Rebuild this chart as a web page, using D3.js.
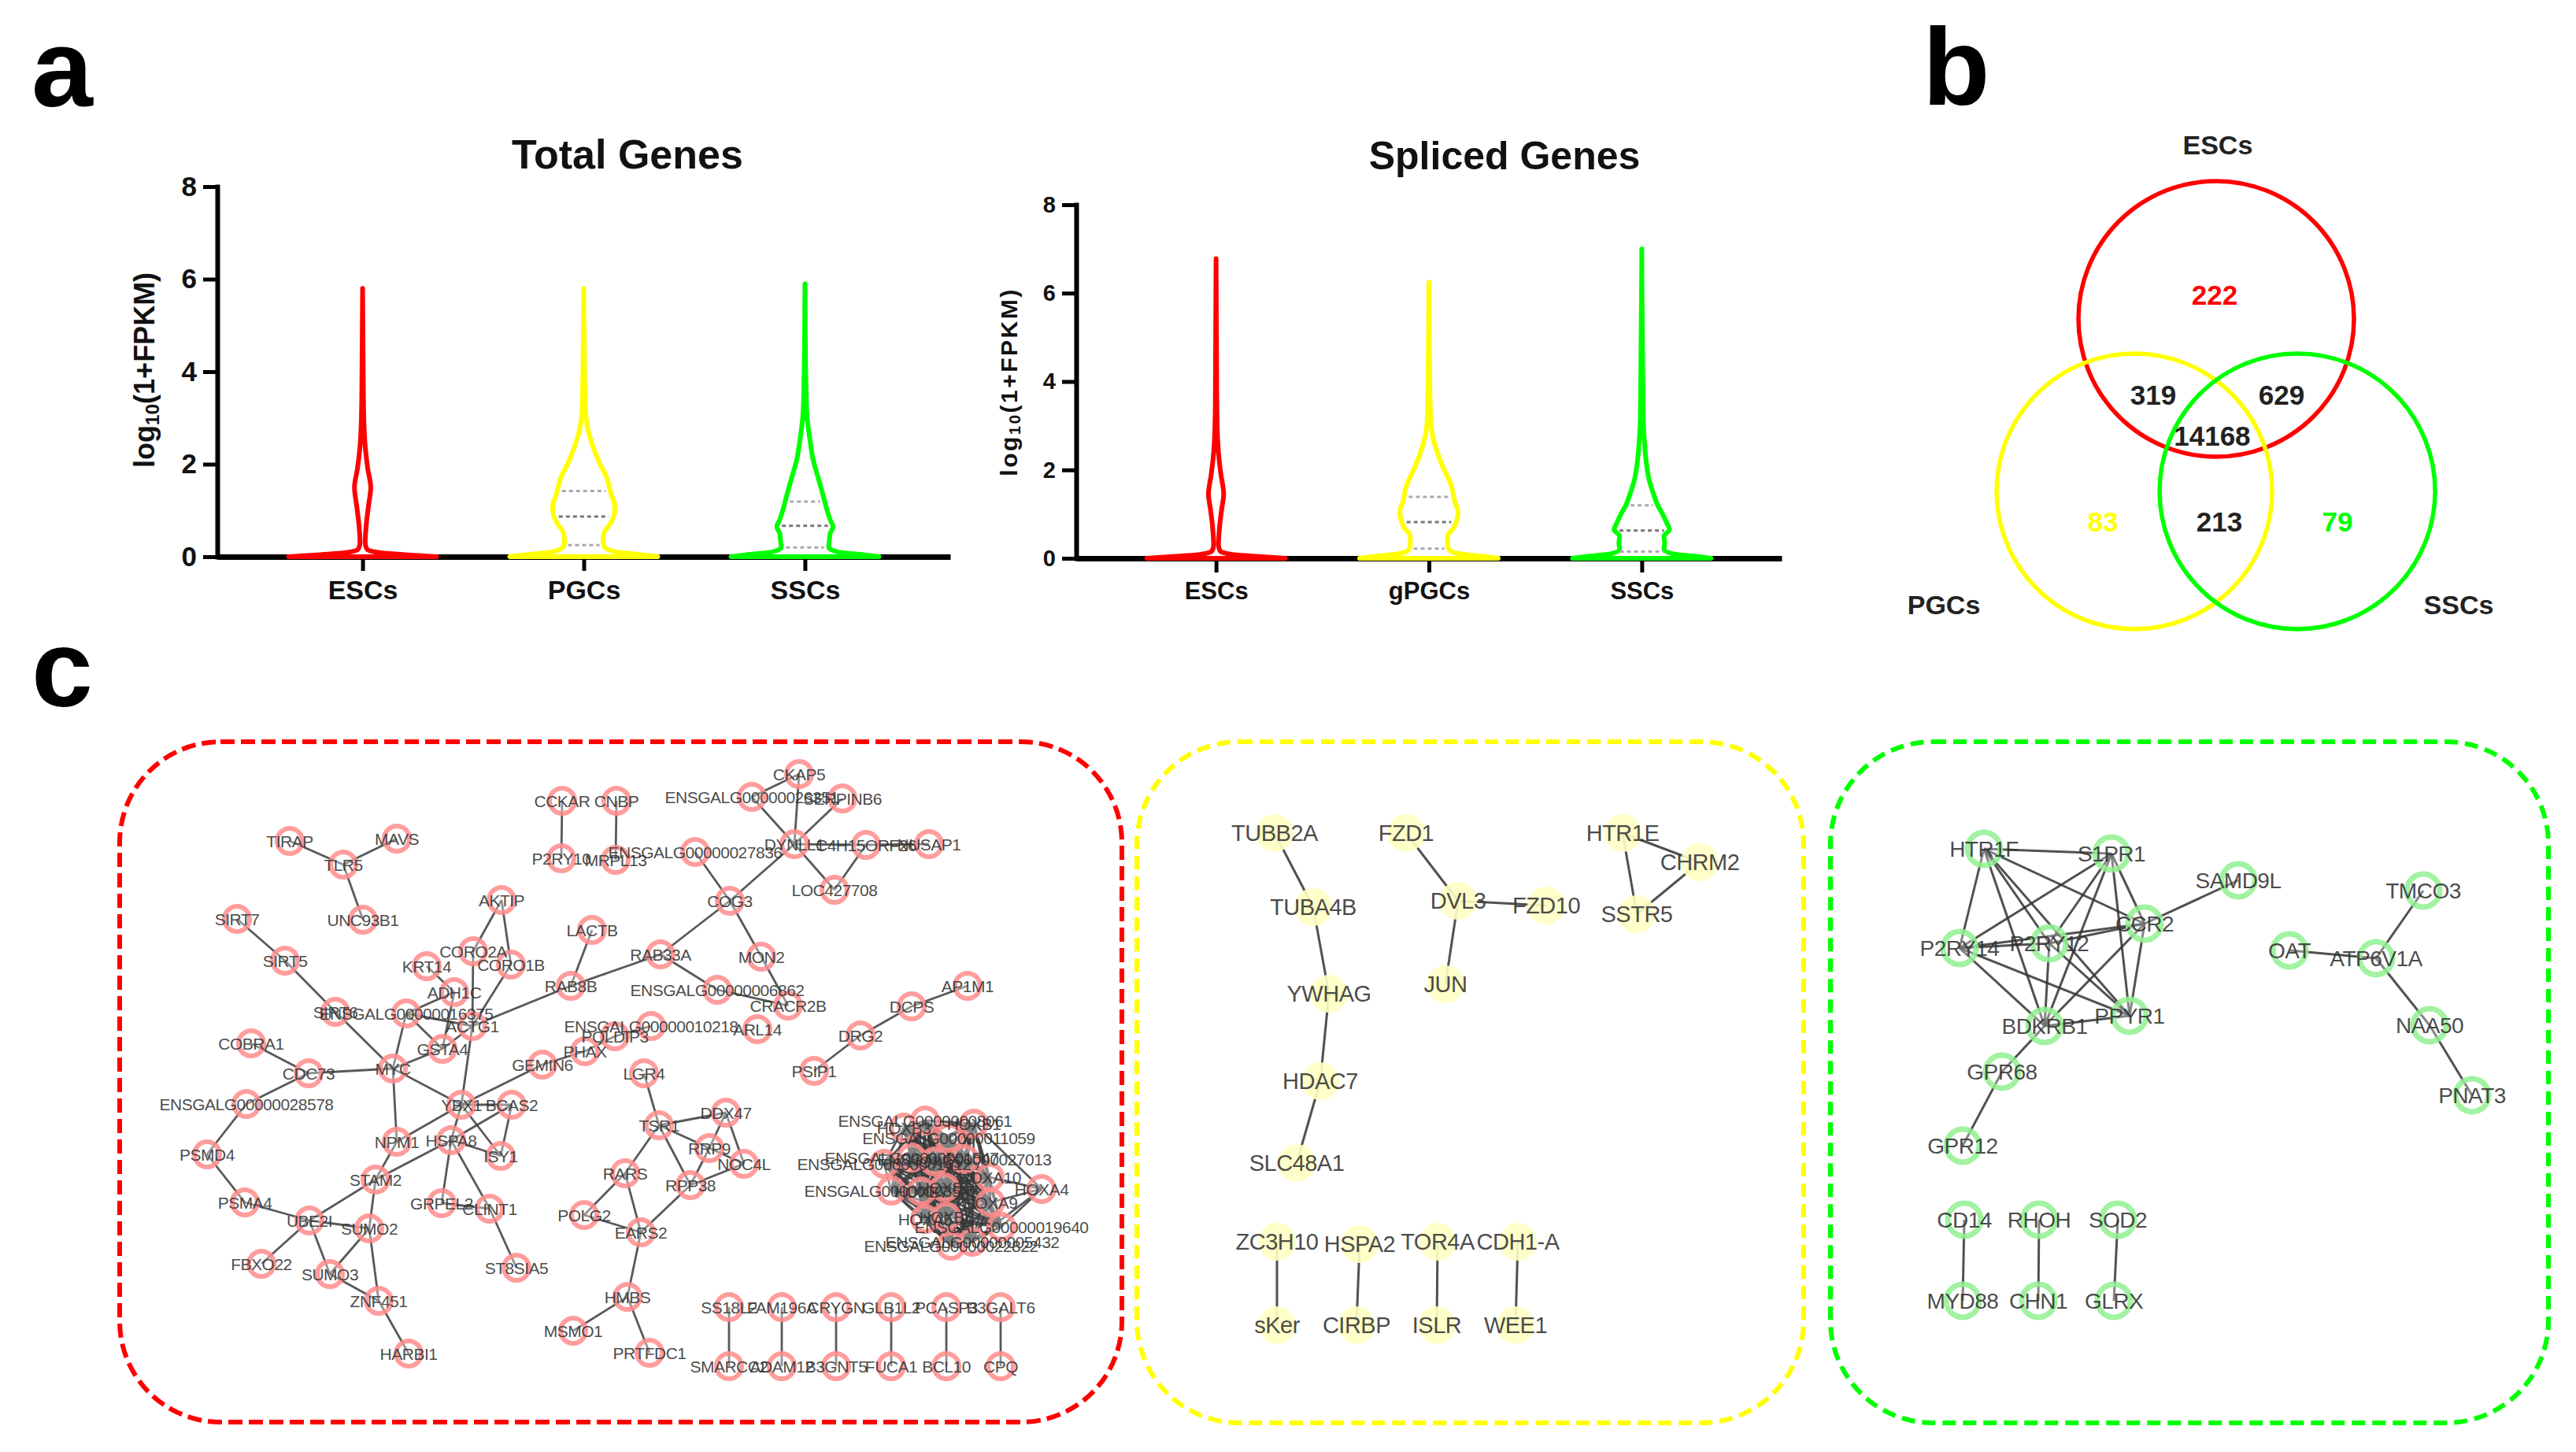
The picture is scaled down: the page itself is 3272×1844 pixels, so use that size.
<!DOCTYPE html>
<html><head><meta charset="utf-8">
<script src="https://cdn.jsdelivr.net/npm/d3@7"></script>
<style>
body{margin:0;background:#fff}
svg{display:block}
.narrow{font-family:"Liberation Sans Narrow","Arial Narrow","Liberation Sans",Arial,sans-serif;font-weight:bold}
.sans{font-family:"Liberation Sans",Arial,sans-serif}
</style></head>
<body>
<svg id="fig" width="3272" height="1844"></svg>
<script>
// ---------------- DATA ----------------
const cellTypesTotal = ["ESCs", "PGCs", "SSCs"];
const cellTypesSpliced = ["ESCs", "gPGCs", "SSCs"];
const yTicks = [0, 2, 4, 6, 8];
const violinColors = ["#ff0000", "#ffff00", "#00ff00"];

// violin profiles: [log10(1+FPKM), relative half-width]
const totalESCs = [[0,1.0],[0.04,0.62],[0.09,0.22],[0.16,0.06],[0.3,0.035],[0.7,0.05],[1.1,0.08],[1.5,0.11],[1.9,0.07],[2.3,0.04],[2.8,0.02],[3.6,0.01],[5.8,0]];
const totalPGCs = [[0,1.0],[0.04,0.8],[0.1,0.45],[0.18,0.3],[0.3,0.26],[0.5,0.27],[0.7,0.35],[0.9,0.41],[1.1,0.42],[1.35,0.37],[1.6,0.33],[1.75,0.3],[2.0,0.22],[2.4,0.12],[2.8,0.05],[3.3,0.02],[5.8,0]];
const totalSSCs = [[0,1.0],[0.04,0.8],[0.1,0.45],[0.2,0.32],[0.35,0.33],[0.5,0.34],[0.65,0.38],[0.8,0.34],[1.0,0.3],[1.3,0.25],[1.7,0.18],[2.1,0.11],[2.5,0.07],[3.0,0.03],[3.6,0.015],[5.9,0]];
const splicedESCs = [[0,1.0],[0.04,0.62],[0.09,0.22],[0.16,0.06],[0.3,0.035],[0.7,0.05],[1.1,0.08],[1.45,0.11],[1.9,0.07],[2.3,0.04],[2.8,0.02],[3.6,0.01],[6.78,0]];
const splicedPGCs = [[0,1.0],[0.04,0.8],[0.1,0.45],[0.18,0.3],[0.3,0.27],[0.5,0.27],[0.7,0.36],[0.9,0.41],[1.05,0.42],[1.3,0.37],[1.55,0.34],[1.7,0.31],[2.0,0.22],[2.4,0.12],[2.8,0.05],[3.3,0.02],[6.25,0]];
const splicedSSCs = [[0,1.0],[0.04,0.8],[0.1,0.45],[0.2,0.32],[0.35,0.33],[0.5,0.32],[0.65,0.4],[0.8,0.36],[1.0,0.3],[1.2,0.23],[1.5,0.16],[1.75,0.11],[2.1,0.07],[2.6,0.04],[3.2,0.02],[7.0,0]];
const quartilesTotal = [[], [0.25, 0.87, 1.42], [0.2, 0.67, 1.19]];
const quartilesSpliced = [[], [0.22, 0.82, 1.39], [0.15, 0.63, 1.2]];

// Venn
const vennSets = ["ESCs", "PGCs", "SSCs"];
const vennSetColors = ["#ff0000", "#ffff00", "#00ff00"];
const vennCenters = [[0, 0], [-0.594, 1.251], [0.589, 1.251]];      // in radius units
const vennSetLabelPos = [[0.011, -1.263], [-1.977, 2.074], [1.76, 2.074]];
const vennCounts = [222, 83, 79, 319, 629, 213, 14168];
const vennCountColors = ["#ff0000", "#ffff00", "#00ff00", "#222", "#222", "#222", "#222"];
const vennCountPos = [[-0.011,-0.177],[-0.823,1.469],[0.88,1.469],[-0.457,0.554],[0.474,0.554],[0.023,1.469],[-0.029,0.846]];

// Networks: nodes [name, layoutX, layoutY] (layout units inside each box)
const redNodes = [
 ["CCKAR",562,75],["CNBP",631,75],["P2RY10",561,148],["MRPL13",630,150],
 ["TIRAP",216,126],["MAVS",352,123],["TLR5",284,156],["UNC93B1",309,226],
 ["AKTIP",485,201],["SIRT7",149,225],["SIRT5",210,278],["LACTB",600,239],
 ["CORO2A",449,266],["KRT14",390,285],["CORO1B",497,283],["ADH1C",425,318],
 ["RAB8B",573,310],["SIRT6",274,343],["ENSGALG00000016375",364,345],["ACTG1",448,361],
 ["GSTA4",410,390],["COBRA1",167,383],["CDC73",240,421],["MYC",347,415],
 ["GEMIN6",537,410],["PHAX",591,393],["POLDIP3",629,374],["ENSGALG00000010218",675,361],
 ["LGR4",666,421],["ENSGALG00000028578",161,460],["YBX1",434,461],["BCAS2",498,461],
 ["CKAP5",863,41],["ENSGALG00000026351",803,70],["SERPINB6",918,72],["DYNLL1",857,130],
 ["C4H15ORF26",948,131],["NUSAP1",1028,130],["ENSGALG00000027836",731,140],["LOC427708",908,188],
 ["COG3",775,202],["RAB33A",687,270],["MON2",815,273],["ENSGALG00000006862",759,315],
 ["CRACR2B",849,335],["ARL14",810,365],["AP1M1",1077,310],["DCPS",1006,336],
 ["DRG2",941,373],["PSIP1",882,418],["DDX47",770,471],["NPM1",352,508],
 ["HSPA8",421,506],["ISY1",484,526],["PSMD4",111,524],["STAM2",325,556],
 ["PSMA4",159,585],["GRPEL2",409,586],["CLINT1",470,593],["UBE2I",241,608],
 ["SUMO2",317,618],["FBXO22",180,663],["SUMO3",267,676],["ST8SIA5",504,668],
 ["ZNF451",329,710],["HARBI1",367,777],["TSR1",685,487],["RRP9",749,516],
 ["NOC4L",793,536],["RARS",642,548],["RPP38",725,563],["POLG2",590,601],
 ["EARS2",662,623],["HMBS",645,705],["MSMO1",576,748],["PRTFDC1",673,776],
 ["SS18L2",774,718],["FAM196A",841,718],["CRYGN",910,718],["GLB1L2",980,718],["PCASP3",1050,718],["B3GALT6",1119,718],
 ["SMARCC2",774,793],["ADAM12",841,793],["B3GNT5",910,793],["FUCA1",980,793],["BCL10",1050,793],["CPQ",1119,793],
 ["HOXB3",996,490],["ENSGALG00000008061",1023,481],["HOXB1",1085,485],["ENSGALG00000011059",1053,503],
 ["ENSGALG00000001547",1006,528],["ENSGALG00000001612",971,536],["HOXB5",1035,533],["ENSGALG00000027013",1073,530],
 ["HOXA10",1105,553],["HOXA4",1171,568],["ENSGALG00000003587",980,570],["HOXB7",1018,571],
 ["HOXB6",1048,566],["HOXA9",1106,585],["HOXA5",1023,606],["HOXB8",1050,603],
 ["ENSGALG00000019640",1120,616],["ENSGALG00000022822",1056,640],["ENSGALG00000005432",1083,635]
];
const redEdges = [
 ["CCKAR","P2RY10"],["CNBP","MRPL13"],["TIRAP","TLR5"],["MAVS","TLR5"],["TLR5","UNC93B1"],
 ["SIRT7","SIRT5"],["SIRT5","SIRT6"],["SIRT6","MYC"],["AKTIP","CORO2A"],["AKTIP","CORO1B"],
 ["CORO2A","ACTG1"],["CORO1B","ACTG1"],["KRT14","ADH1C"],["ADH1C","ENSGALG00000016375"],["ADH1C","GSTA4"],
 ["ENSGALG00000016375","ACTG1"],["ENSGALG00000016375","GSTA4"],["ENSGALG00000016375","MYC"],
 ["ACTG1","RAB8B"],["RAB8B","LACTB"],["RAB8B","RAB33A"],["ACTG1","GSTA4"],["GSTA4","MYC"],["ACTG1","YBX1"],
 ["MYC","CDC73"],["CDC73","COBRA1"],["CDC73","ENSGALG00000028578"],["ENSGALG00000028578","PSMD4"],["PSMD4","PSMA4"],["PSMA4","UBE2I"],
 ["MYC","YBX1"],["MYC","NPM1"],["YBX1","BCAS2"],["YBX1","NPM1"],["YBX1","HSPA8"],["YBX1","ISY1"],["YBX1","GEMIN6"],
 ["GEMIN6","PHAX"],["PHAX","POLDIP3"],["POLDIP3","ENSGALG00000010218"],["BCAS2","ISY1"],["BCAS2","HSPA8"],
 ["HSPA8","STAM2"],["HSPA8","GRPEL2"],["HSPA8","CLINT1"],["HSPA8","ISY1"],["CLINT1","ST8SIA5"],["GRPEL2","CLINT1"],
 ["NPM1","STAM2"],["STAM2","UBE2I"],["STAM2","SUMO2"],["UBE2I","SUMO2"],["UBE2I","FBXO22"],["UBE2I","SUMO3"],
 ["SUMO2","SUMO3"],["SUMO2","ZNF451"],["SUMO3","ZNF451"],["ZNF451","HARBI1"],
 ["ENSGALG00000027836","COG3"],["DYNLL1","COG3"],["COG3","RAB33A"],["COG3","MON2"],["MON2","CRACR2B"],
 ["RAB33A","ENSGALG00000006862"],["ENSGALG00000006862","CRACR2B"],
 ["CKAP5","ENSGALG00000026351"],["CKAP5","DYNLL1"],["ENSGALG00000026351","DYNLL1"],["SERPINB6","DYNLL1"],
 ["DYNLL1","C4H15ORF26"],["C4H15ORF26","NUSAP1"],["DYNLL1","LOC427708"],["C4H15ORF26","LOC427708"],
 ["AP1M1","DCPS"],["DCPS","DRG2"],["DRG2","PSIP1"],
 ["LGR4","TSR1"],["TSR1","DDX47"],["TSR1","RRP9"],["TSR1","RARS"],["TSR1","RPP38"],["DDX47","RRP9"],["DDX47","NOC4L"],
 ["RRP9","NOC4L"],["RRP9","RPP38"],["RPP38","NOC4L"],["RARS","POLG2"],["RARS","EARS2"],["POLG2","EARS2"],
 ["EARS2","RPP38"],["EARS2","HMBS"],["HMBS","MSMO1"],["HMBS","PRTFDC1"],
 ["SS18L2","SMARCC2"],["FAM196A","ADAM12"],["CRYGN","B3GNT5"],["GLB1L2","FUCA1"],["PCASP3","BCL10"],["B3GALT6","CPQ"],
 ["HOXA4","HOXB1"],["HOXA4","HOXA10"],["HOXA4","HOXA9"],["HOXA4","ENSGALG00000019640"],["HOXA4","ENSGALG00000005432"]
];
// fully interconnected modules
const redClique = ["HOXB3","ENSGALG00000008061","HOXB1","ENSGALG00000011059","ENSGALG00000001547","ENSGALG00000001612","HOXB5","ENSGALG00000027013","HOXA10","ENSGALG00000003587","HOXB7","HOXB6","HOXA9","HOXA5","HOXB8","ENSGALG00000019640","ENSGALG00000022822","ENSGALG00000005432"];

const yellowNodes = [
 ["TUBB2A",175,116],["FZD1",342,116],["HTR1E",617,116],["CHRM2",715,153],
 ["TUBA4B",224,210],["DVL3",408,202],["FZD10",520,208],["SSTR5",635,219],
 ["YWHAG",244,320],["JUN",392,308],["HDAC7",233,431],["SLC48A1",203,535],
 ["ZC3H10",178,635],["HSPA2",283,638],["TOR4A",382,635],["CDH1-A",484,635],
 ["sKer",178,741],["CIRBP",279,741],["ISLR",381,741],["WEE1",481,741]
];
const yellowEdges = [
 ["TUBB2A","TUBA4B"],["TUBA4B","YWHAG"],["YWHAG","HDAC7"],["HDAC7","SLC48A1"],
 ["FZD1","DVL3"],["DVL3","FZD10"],["DVL3","JUN"],["HTR1E","CHRM2"],["HTR1E","SSTR5"],["SSTR5","CHRM2"],
 ["ZC3H10","sKer"],["HSPA2","CIRBP"],["TOR4A","ISLR"],["CDH1-A","WEE1"]
];

const greenNodes = [
 ["HTR1F",195,136],["S1PR1",357,142],["SAMD9L",518,176],["CCR2",399,231],
 ["P2RY14",164,262],["P2RY12",278,256],["PPYR1",380,348],["BDKRB1",272,361],
 ["GPR68",218,419],["GPR12",168,513],["TMCO3",753,189],["OAT",583,265],
 ["ATP6V1A",693,275],["NAA50",761,360],["PNAT3",815,449],
 ["CD14",170,607],["RHOH",265,607],["SOD2",365,607],
 ["MYD88",168,710],["CHN1",264,710],["GLRX",360,710]
];
const greenEdges = [
 ["CCR2","SAMD9L"],["BDKRB1","GPR68"],["GPR68","GPR12"],["OAT","ATP6V1A"],["ATP6V1A","TMCO3"],
 ["ATP6V1A","NAA50"],["NAA50","PNAT3"],["CD14","MYD88"],["RHOH","CHN1"],["SOD2","GLRX"]
];
const greenClique = ["HTR1F","S1PR1","CCR2","P2RY14","P2RY12","PPYR1","BDKRB1"];

// ---------------- DRAW ----------------
const svg = d3.select("#fig");
svg.append("rect").attr("width",3272).attr("height",1844).attr("fill","#fff");

// panel letters
const letters = [["a",40,135],["b",2442,133],["c",40,897]];
svg.selectAll("text.pl").data(letters).join("text").attr("class","sans")
  .attr("x",d=>d[1]).attr("y",d=>d[2]).text(d=>d[0])
  .attr("font-size",140).attr("font-weight","bold").attr("fill","#000");

function violinChart(cfg){
  const g = svg.append("g");
  const x = d3.scalePoint().domain(cfg.cats).range(cfg.xr).padding(0.657);
  const y = d3.scaleLinear().domain([0,8]).range(cfg.yr);
  const w = d3.scaleLinear().domain([0,1]).range([0,cfg.maxW]);
  // axes
  const ya = g.append("g").attr("transform",`translate(${cfg.xr[0]},0)`)
    .call(d3.axisLeft(y).tickValues(yTicks).tickSize(18).tickSizeOuter(0).tickPadding(8));
  ya.select(".domain").attr("stroke","#000").attr("stroke-width",6).attr("stroke-linecap","square");
  ya.selectAll(".tick line").attr("stroke","#000").attr("stroke-width",5);
  ya.selectAll(".tick text").attr("class","narrow").attr("font-size",cfg.tickFs).attr("fill","#111");
  const xa = g.append("g").attr("transform",`translate(0,${cfg.yr[0]})`)
    .call(d3.axisBottom(x).tickSize(18).tickSizeOuter(0).tickPadding(12));
  xa.select(".domain").attr("stroke","#000").attr("stroke-width",7);
  xa.selectAll(".tick line").attr("stroke","#000").attr("stroke-width",5);
  xa.selectAll(".tick text").attr("class","narrow").attr("font-size",cfg.catFs).attr("fill","#111");
  // violins
  cfg.profiles.forEach((prof,i)=>{
    const cx = x(cfg.cats[i]);
    const area = d3.area().curve(d3.curveMonotoneY)
      .y(d=>y(d[0])).x0(d=>cx - w(d[1])).x1(d=>cx + w(d[1]));
    g.append("path").attr("d",area(prof)).attr("fill","#fff")
      .attr("stroke",violinColors[i]).attr("stroke-width",6).attr("stroke-linejoin","round");
    const interp = d3.scaleLinear().domain(prof.map(d=>d[0])).range(prof.map(d=>d[1]));
    cfg.quart[i].forEach((q,k)=>{
      const hw = w(interp(q)) - 6;
      g.append("line").attr("x1",cx-hw).attr("x2",cx+hw).attr("y1",y(q)).attr("y2",y(q))
        .attr("stroke", k===1 ? "#777" : "#aaa").attr("stroke-width",3).attr("stroke-dasharray","5,4");
    });
  });
  // title
  g.append("text").attr("class","narrow").attr("x",cfg.titleX).attr("y",cfg.titleY)
    .attr("text-anchor","middle").attr("dominant-baseline","central")
    .attr("font-size",cfg.titleFs).attr("fill","#111").text(cfg.title);
  // y label
  const yl = g.append("text").attr("class","sans").attr("font-weight","bold")
    .attr("font-size",cfg.ylFs).attr("letter-spacing",cfg.ylSpacing)
    .attr("text-anchor","middle").attr("dominant-baseline","central").attr("fill","#111")
    .attr("transform",`translate(${cfg.ylX},${cfg.ylY}) rotate(-90)`);
  yl.append("tspan").text("log");
  yl.append("tspan").attr("font-size",cfg.ylFs*0.68).attr("dy",cfg.ylFs*0.28).text("10");
  yl.append("tspan").attr("dy",-cfg.ylFs*0.28).text("(1+FPKM)");
}

violinChart({cats:cellTypesTotal, xr:[276,1207], yr:[707,237], maxW:94,
  profiles:[totalESCs,totalPGCs,totalSSCs], quart:quartilesTotal,
  title:"Total Genes", titleX:797, titleY:196, titleFs:52, tickFs:35, catFs:34,
  ylX:183, ylY:470, ylFs:36, ylSpacing:0});
violinChart({cats:cellTypesSpliced, xr:[1367,2263], yr:[709,260], maxW:88,
  profiles:[splicedESCs,splicedPGCs,splicedSSCs], quart:quartilesSpliced,
  title:"Spliced Genes", titleX:1911, titleY:198, titleFs:50, tickFs:29, catFs:31,
  ylX:1281, ylY:485, ylFs:30, ylSpacing:2.5});

// Venn
(function(){
  const R = 175;
  const vx = d3.scaleLinear().domain([0,1]).range([2815, 2815+R]);
  const vy = d3.scaleLinear().domain([0,1]).range([405, 405+R]);
  const g = svg.append("g");
  g.selectAll("circle").data(vennSets).join("circle")
    .attr("cx",(d,i)=>vx(vennCenters[i][0])).attr("cy",(d,i)=>vy(vennCenters[i][1]))
    .attr("r",R).attr("fill","none").attr("stroke",(d,i)=>vennSetColors[i]).attr("stroke-width",5.5);
  g.selectAll("text.set").data(vennSets).join("text").attr("class","sans")
    .attr("x",(d,i)=>vx(vennSetLabelPos[i][0])).attr("y",(d,i)=>vy(vennSetLabelPos[i][1]))
    .attr("text-anchor","middle").attr("dominant-baseline","central")
    .attr("font-weight","bold").attr("font-size",34).attr("fill","#222").text(d=>d);
  g.selectAll("text.cnt").data(vennCounts).join("text").attr("class","sans")
    .attr("x",(d,i)=>vx(vennCountPos[i][0])).attr("y",(d,i)=>vy(vennCountPos[i][1]))
    .attr("text-anchor","middle").attr("dominant-baseline","central")
    .attr("font-weight","bold").attr("font-size",35).attr("fill",(d,i)=>vennCountColors[i]).text(d=>d);
})();

// Networks
function network(cfg){
  const g = svg.append("g");
  const sx = d3.scaleLinear().domain([0,cfg.w]).range([cfg.x, cfg.x+cfg.w]);
  const sy = d3.scaleLinear().domain([0,cfg.h]).range([cfg.y, cfg.y+cfg.h]);
  g.append("rect").attr("x",sx(0)).attr("y",sy(0)).attr("width",cfg.w).attr("height",cfg.h)
    .attr("rx",cfg.rx).attr("ry",cfg.rx).attr("fill","none")
    .attr("stroke",cfg.boxColor).attr("stroke-width",6).attr("stroke-dasharray",cfg.dash);
  const pos = new Map(cfg.nodes.map(d=>[d[0],[sx(d[1]),sy(d[2])]]));
  let edges = cfg.edges.slice();
  (cfg.cliques||[]).forEach(c=>{
    for(let i=0;i<c.length;i++) for(let j=i+1;j<c.length;j++) edges.push([c[i],c[j]]);
  });
  g.selectAll("line").data(edges).join("line")
    .attr("x1",d=>pos.get(d[0])[0]).attr("y1",d=>pos.get(d[0])[1])
    .attr("x2",d=>pos.get(d[1])[0]).attr("y2",d=>pos.get(d[1])[1])
    .attr("stroke",cfg.edgeColor).attr("stroke-width",cfg.edgeW).attr("stroke-opacity",0.85);
  g.selectAll("circle").data(cfg.nodes).join("circle")
    .attr("cx",d=>sx(d[1])).attr("cy",d=>sy(d[2])).attr("r",cfg.r)
    .attr("fill",cfg.nodeFill).attr("fill-opacity",cfg.nodeFillOp)
    .attr("stroke",cfg.nodeStroke).attr("stroke-width",cfg.nodeStrokeW).attr("stroke-opacity",0.85);
  g.selectAll("text").data(cfg.nodes).join("text").attr("class","sans")
    .attr("x",d=>sx(d[1])).attr("y",d=>sy(d[2]))
    .attr("text-anchor","middle").attr("dominant-baseline","central")
    .attr("font-size",cfg.fs).attr("fill","#333").attr("fill-opacity",0.9)
    .attr("letter-spacing",cfg.ls||0).text(d=>d[0]);
}

network({x:152,y:942,w:1273,h:864,rx:128,boxColor:"#ff0000",dash:"18,8",
  nodes:redNodes, edges:redEdges, cliques:[redClique], edgeColor:"#3c3c3c", edgeW:2.8,
  r:16, nodeFill:"#fff", nodeFillOp:0.35, nodeStroke:"#ff8c8c", nodeStrokeW:6, fs:21, ls:-0.5});
network({x:1444,y:942,w:847,h:865,rx:130,boxColor:"#ffff00",dash:"17,9",
  nodes:yellowNodes, edges:yellowEdges, edgeColor:"#333", edgeW:3,
  r:24, nodeFill:"#ffffc4", nodeFillOp:0.9, nodeStroke:"none", nodeStrokeW:0, fs:29, ls:-0.5});
network({x:2325,y:942,w:912,h:865,rx:130,boxColor:"#00ff00",dash:"17,9",
  nodes:greenNodes, edges:greenEdges, cliques:[greenClique], edgeColor:"#333", edgeW:3,
  r:21, nodeFill:"#fff", nodeFillOp:0.3, nodeStroke:"#90f090", nodeStrokeW:7, fs:28, ls:-0.5});
</script>
</body></html>
